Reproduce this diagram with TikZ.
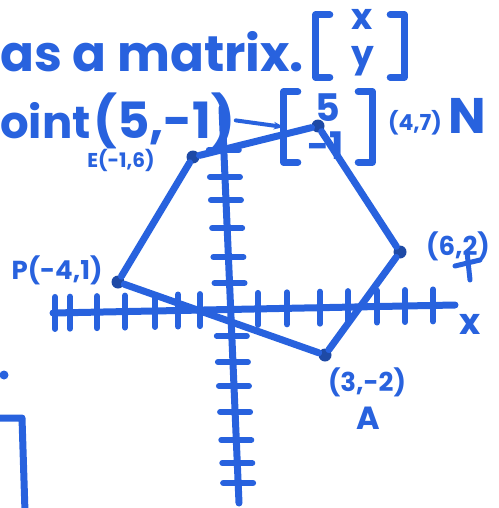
\documentclass[tikz,border=0pt]{standalone}
\usepackage{fontspec}
\setmainfont{Poppins}
\usepackage{xcolor}
\usetikzlibrary{arrows.meta, positioning, calc}
\definecolor{marker}{RGB}{40,98,222}

\begin{document}
\begin{tikzpicture}[
    x=1pt, y=-1pt,
    pen/.style={draw=marker, line width=7pt, line cap=round, line join=round},
    tick/.style={draw=marker, line width=6pt, line cap=round},
    vtx/.style={circle, fill=marker!75!black, inner sep=0pt, minimum size=13pt},
    big/.style={text=marker, font=\fontsize{50}{50}\selectfont\bfseries, inner sep=0pt},
    frame/.style={inner sep=0pt, minimum width=88pt},
    entry/.style={text=marker, font=\fontsize{38}{38}\selectfont\bfseries, inner sep=0pt},
    lbl/.style={text=marker, font=\fontsize{22}{22}\selectfont\bfseries, inner sep=0pt}
  ]
  \useasboundingbox (0,0) rectangle (498,508);

  % text lines
  \node[big, anchor=base west] (head) at (0,72) {as a matrix.};
  \node[big, anchor=base west, font=\fontsize{45}{45}\selectfont\bfseries] (pt) at (0,138) {oint};
  \node[big, anchor=base west, font=\fontsize{50}{50}\selectfont\bfseries] (p51) at (93,138) {(5,-1)};

  % matrices
  \node[frame, minimum height=62pt] (mxy) at (360,46) {};
  \node[entry, font=\fontsize{36}{36}\selectfont\bfseries] (ex) at (362,19) {x};
  \node[entry, font=\fontsize{36}{36}\selectfont\bfseries] (ey) at (363,61) {y};
  \node[frame, minimum height=70pt] (m51) at (328,127) {};
  \node[entry] (e5) at (328,108) {5};
  \node[entry] (e1) at (326,146) {-1};
  \draw[pen] ([xshift=14pt]mxy.north west) -- (mxy.north west) -- (mxy.south west) -- ++(14,0);
  \draw[pen] ([xshift=-14pt]mxy.north east) -- (mxy.north east) -- (mxy.south east) -- ++(-14,0);
  \draw[pen] ([xshift=14pt]m51.north west) -- (m51.north west) -- (m51.south west) -- ++(14,0);
  \draw[pen] ([xshift=-14pt]m51.north east) -- (m51.north east) -- (m51.south east) -- ++(-14,0);
  \draw[pen, line width=4pt, -{Stealth[length=10pt]}] (p51.east) -- (m51.west);

  % axes
  \coordinate (xl) at (53,313);
  \coordinate (xr) at (455,305);
  \coordinate (yt) at (222,108);
  \coordinate (yb) at (239,503);
  \draw[pen] (xl) -- (xr);
  \draw[pen] (yt) -- (yb);
  \foreach \tx in {55,70,97,125,155,178,200,258,287,320,348,377,405,433}
    \draw[tick] ($(xl)!{(\tx-53)/402}!(xr)$) ++(0,-16) -- ++(0,32);
  \foreach \ty in {150,177,200,228,257,283,336,362,386,412,440,463,483}
    \draw[tick] ($(yt)!{(\ty-108)/395}!(yb)$) ++(-15,0) -- ++(30,0);
  \node[lbl, font=\fontsize{36}{36}\selectfont\bfseries] (xlab) at (470,324) {x};

  % vertices
  \node[vtx] (vE) at (193,157) {};
  \node[vtx] (vN) at (318,126) {};
  \node[vtx] (vR) at (400,252) {};
  \node[vtx] (vA) at (325,355) {};
  \node[vtx] (vP) at (118,282) {};

  % edges
  \draw[pen] (vE) -- (vN) -- (vR) -- (vA) -- (vP) -- (vE);

  % vertex labels
  \node[lbl, font=\fontsize{20}{20}\selectfont\bfseries] (lE) at (121,160) {E(-1,6)};
  \node[lbl] (lN) at (415,123) {(4,7)};
  \node[lbl, font=\fontsize{50}{50}\selectfont\bfseries] (nN) at (467,116) {N};
  \node[lbl, font=\fontsize{26}{26}\selectfont\bfseries] (lP) at (57,270) {P(-4,1)};
  \node[lbl, font=\fontsize{26}{26}\selectfont\bfseries] (lR) at (458,246) {(6,2)};
  \node[lbl, font=\fontsize{26}{26}\selectfont\bfseries] (lA) at (367,382) {(3,-2)};
  \node[lbl, font=\fontsize{32}{32}\selectfont\bfseries] (nA) at (368,418) {A};
  \draw[tick, line width=5pt] (455,266) -- (480,260);
  \draw[tick, line width=5pt] (467,252) -- (470,280);

  % left edge marks
  \fill[marker] (4,375) circle (4.5pt);
  \draw[pen] (0,418) -- (22,418) -- (25,512);
\end{tikzpicture}
\end{document}
